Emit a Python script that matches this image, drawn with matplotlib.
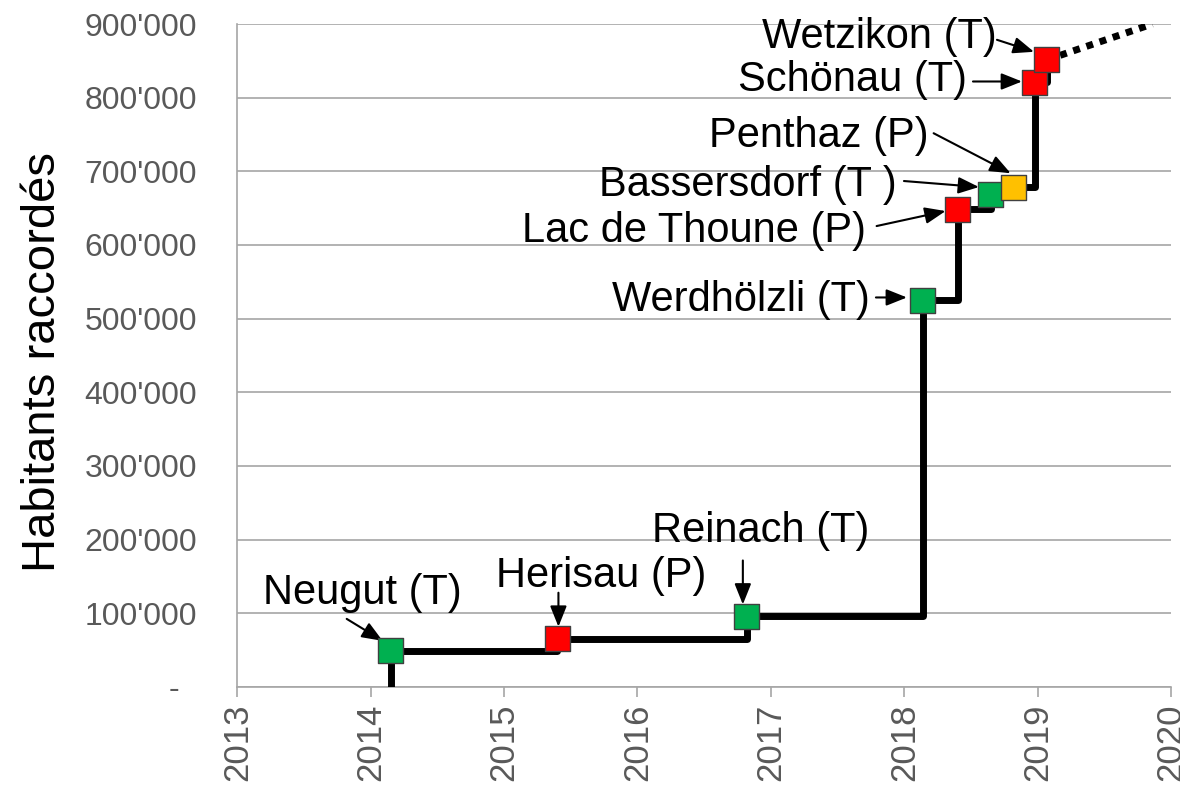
import matplotlib.pyplot as plt
from matplotlib.transforms import offset_copy

plt.rcParams['font.family'] = ['Liberation Sans', 'DejaVu Sans']

# stations (date of connection, inhabitants connected)
names = ['Neugut (T)', 'Herisau (P)', 'Reinach (T)', 'Werdhölzli (T)',
         'Lac de Thoune (P)', 'Bassersdorf (T )', 'Penthaz (P)',
         'Schönau (T)', 'Wetzikon (T)']
dates = [2014.15, 2015.40, 2016.82, 2018.14, 2018.40, 2018.65, 2018.82,
         2018.98, 2019.07]
habitants = [49000, 65500, 95700, 524700, 648800, 669200, 678400,
             820600, 851400]
colors = ['#00B050', '#FF0000', '#00B050', '#00B050', '#FF0000',
          '#00B050', '#FFC000', '#FF0000', '#FF0000']

# dotted extrapolation after Wetzikon
trend_x = [2019.07, 2019.86]
trend_y = [851400, 900000]

years = list(range(2013, 2021))
yticks = list(range(0, 900001, 100000))

# label placement in pixels relative to the marker: text (dx, dy, ha),
# arrow tail (dx, dy), arrow head (dx, dy)
label_pos = [(-28, 58, 'center'), (44, 63, 'center'), (14, 85, 'center'),
             (-53, 0, 'right'), (-92, -22, 'right'), (-94, 9, 'right'),
             (-85, 51, 'right'), (-68, 2, 'right'), (-50, 23, 'right')]
arrow_tail = [(-44, 32), (1, 46), (-4, 56), (-47, 3), (-81, -17),
              (-87, 13), (-80, 54), (-62, 1), (-50, 20)]
arrow_head = [(-8, 10), (1, 12), (-4, 12), (-16, 3), (-12, -2),
              (-12, 7), (-3, 14), (-13, 1), (-13, 8)]

fig = plt.figure(figsize=(11.8, 7.87), dpi=100)
ax = fig.add_axes([0.2011, 0.1271, 0.7913, 0.8424])

# step line starting from zero
ax.plot([dates[0]] + dates, [0] + habitants, drawstyle='steps-post',
        color='black', lw=5, zorder=3, solid_capstyle='butt')
ax.plot(trend_x, trend_y, color='black', lw=5, linestyle=(0, (1, 1)),
        dash_capstyle='butt', zorder=2)
ax.scatter(dates, habitants, c=colors, marker='s', s=18 ** 2,
           edgecolors='#404040', linewidths=1.0, zorder=4)

for i, name in enumerate(names):
    dx, dy, ha = label_pos[i]
    ax.annotate(name, xy=(dates[i], habitants[i]), xytext=(dx, dy),
                textcoords='offset pixels', ha=ha, va='center',
                fontsize=30, color='black')
    tail = offset_copy(ax.transData, fig=fig, x=arrow_tail[i][0],
                       y=arrow_tail[i][1], units='dots')
    head = offset_copy(ax.transData, fig=fig, x=arrow_head[i][0],
                       y=arrow_head[i][1], units='dots')
    ax.annotate('', xy=(dates[i], habitants[i]), xycoords=head,
                xytext=(dates[i], habitants[i]), textcoords=tail,
                arrowprops=dict(arrowstyle='-|>,head_length=0.45,head_width=0.18',
                                color='black', lw=1.5, mutation_scale=28,
                                shrinkA=0, shrinkB=0))

ax.set_xlim(2013, 2020)
ax.set_ylim(0, 900000)
ax.set_xticks(years)
ax.set_xticklabels([str(y) for y in years], rotation=90)
ax.set_yticks(yticks)
ax.set_yticklabels(['-  ' if v == 0 else f"{v:,}".replace(',', "'") for v in yticks])

ax.yaxis.grid(True, color='#A6A6A6', lw=1.2)
ax.set_axisbelow(True)
for side in ['top', 'right']:
    ax.spines[side].set_visible(False)
for side in ['left', 'bottom']:
    ax.spines[side].set_color('#A6A6A6')
    ax.spines[side].set_linewidth(1.2)

ax.tick_params(axis='y', length=0, pad=29, labelsize=23, labelcolor='#595959')
ax.tick_params(axis='x', length=7, width=1.2, color='#A6A6A6', pad=5,
               labelsize=25, labelcolor='#595959')

ax.set_ylabel('Habitants raccordés', fontsize=34, color='black')
ax.yaxis.set_label_coords(-0.185, 0.49)

fig.savefig('out.png', dpi=100)
